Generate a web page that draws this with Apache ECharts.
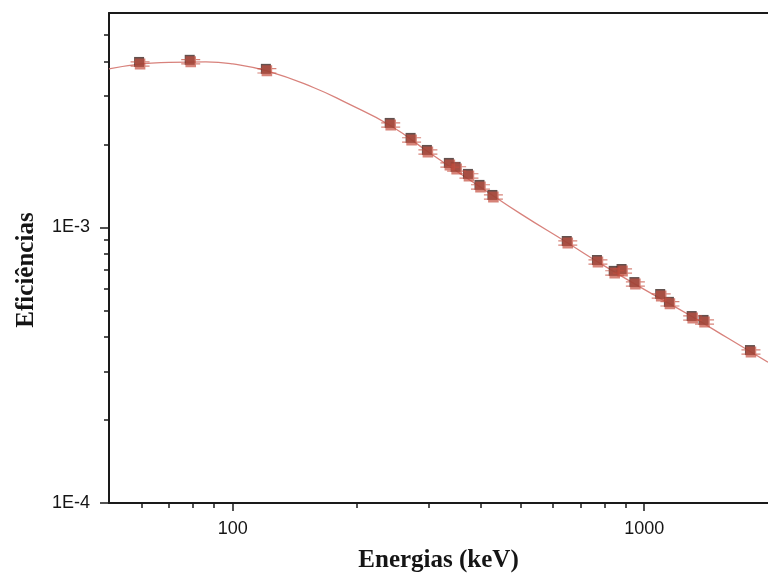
<!DOCTYPE html>
<html>
<head>
<meta charset="utf-8">
<script src="https://cdn.jsdelivr.net/npm/echarts@6/dist/echarts.min.js"></script>
<style>html,body{margin:0;padding:0;background:#fff;}#c{width:768px;height:580px;}</style>
</head>
<body>
<div id="c"></div>
<script>
// Measured points (energy keV, efficiency)
const energies = [59.5, 79, 121, 242, 272, 298, 337, 350, 375, 400, 430, 652, 772, 848, 886, 952, 1100, 1155, 1312, 1402, 1818];
const efficiencies = [3.92e-3, 3.99e-3, 3.70e-3, 2.355e-3, 2.078e-3, 1.879e-3, 1.686e-3, 1.631e-3, 1.538e-3, 1.403e-3, 1.290e-3, 8.78e-4, 7.49e-4, 6.84e-4, 6.95e-4, 6.23e-4, 5.64e-4, 5.28e-4, 4.69e-4, 4.54e-4, 3.53e-4];
// Fit curve
const curveEnergies = [50, 60, 70, 86, 100, 121, 157, 189, 242, 300, 400, 500, 652, 800, 1000, 1300, 1600, 2000];
const curveValues = [3.76e-3, 3.92e-3, 3.97e-3, 3.99e-3, 3.92e-3, 3.70e-3, 3.22e-3, 2.83e-3, 2.34e-3, 1.87e-3, 1.40e-3, 1.122e-3, 8.78e-4, 7.25e-4, 5.96e-4, 4.77e-4, 3.96e-4, 3.24e-4];
// Axis ticks
const xMajorTicks = [100, 1000];
const xMinorTicks = [60, 70, 80, 90, 200, 300, 400, 500, 600, 700, 800, 900];
const yMajorTicks = [1e-4, 1e-3];
const yMinorTicks = [2e-4, 3e-4, 4e-4, 5e-4, 6e-4, 7e-4, 8e-4, 9e-4, 2e-3, 3e-3, 4e-3, 5e-3];
const xRange = [50, 2000];
const yRange = [1e-4, 6e-3];

const pts = energies.map((e, i) => [e, efficiencies[i]]);
const curve = curveEnergies.map((e, i) => [e, curveValues[i]]);

const lineStyle = {color: '#1a1a1a', width: 2};
const labelFont = {fontFamily: 'Liberation Sans', fontSize: 18, color: '#151515'};

const chart = echarts.init(document.getElementById('c'), null, {renderer: 'canvas'});
chart.setOption({
  animation: false,
  backgroundColor: '#ffffff',
  grid: {left: 109, right: -8, top: 13, bottom: 77},
  xAxis: [
    {
      type: 'log', logBase: 10, min: xRange[0], max: xRange[1], position: 'bottom',
      axisLine: {show: true, lineStyle: lineStyle},
      axisTick: {show: true, inside: false, length: 8, customValues: xMajorTicks, lineStyle: {color: '#1a1a1a', width: 1.5}},
      axisLabel: Object.assign({show: true, margin: 17, customValues: xMajorTicks, formatter: v => String(Math.round(v))}, labelFont),
      splitLine: {show: false},
      name: 'Energias (keV)', nameLocation: 'middle', nameGap: 45,
      nameTextStyle: {fontFamily: 'Liberation Serif', fontWeight: 'bold', fontSize: 25, color: '#151515'}
    },
    {
      type: 'log', logBase: 10, min: xRange[0], max: xRange[1], position: 'bottom',
      axisLine: {show: false},
      axisTick: {show: true, inside: false, length: 5, customValues: xMinorTicks, lineStyle: {color: '#1a1a1a', width: 1.5}},
      axisLabel: {show: false}, splitLine: {show: false}
    },
    {
      type: 'log', logBase: 10, min: xRange[0], max: xRange[1], position: 'top',
      axisLine: {show: true, lineStyle: lineStyle},
      axisTick: {show: false}, axisLabel: {show: false}, splitLine: {show: false}
    }
  ],
  yAxis: [
    {
      type: 'log', logBase: 10, min: yRange[0], max: yRange[1], position: 'left',
      axisLine: {show: true, lineStyle: lineStyle},
      axisTick: {show: true, inside: false, length: 9, customValues: yMajorTicks, lineStyle: {color: '#1a1a1a', width: 1.5}},
      axisLabel: Object.assign({show: true, margin: 19, customValues: yMajorTicks, formatter: v => '1E' + Math.round(Math.log10(v))}, labelFont),
      splitLine: {show: false},
      name: 'Eficiências', nameLocation: 'middle', nameGap: 70, nameRotate: 90,
      nameTextStyle: {fontFamily: 'Liberation Serif', fontWeight: 'bold', fontSize: 25, color: '#151515', padding: [0, 24, 0, 0]}
    },
    {
      type: 'log', logBase: 10, min: yRange[0], max: yRange[1], position: 'left',
      axisLine: {show: false},
      axisTick: {show: true, inside: false, length: 5, customValues: yMinorTicks, lineStyle: {color: '#1a1a1a', width: 1.5}},
      axisLabel: {show: false}, splitLine: {show: false}
    }
  ],
  series: [
    {
      type: 'line', xAxisIndex: 0, yAxisIndex: 0, data: curve, smooth: true,
      showSymbol: false, symbol: 'none', z: 1,
      lineStyle: {color: '#d8827c', width: 1.3}
    },
    {
      type: 'scatter', xAxisIndex: 0, yAxisIndex: 0, data: pts, z: 2,
      symbol: 'rect', symbolSize: 10, symbolOffset: [-1, -2],
      itemStyle: {color: '#3b2522'}
    },
    {
      type: 'scatter', xAxisIndex: 0, yAxisIndex: 0, data: pts, z: 3,
      symbol: 'path://M4,0 L14,0 L14,10 L4,10 Z M0,2.5 L18,2.5 L18,3.6 L0,3.6 Z M0,6.4 L18,6.4 L18,7.5 L0,7.5 Z',
      symbolSize: [19, 11],
      itemStyle: {color: 'rgba(196,78,62,0.88)'}
    }
  ]
});
</script>
</body>
</html>
